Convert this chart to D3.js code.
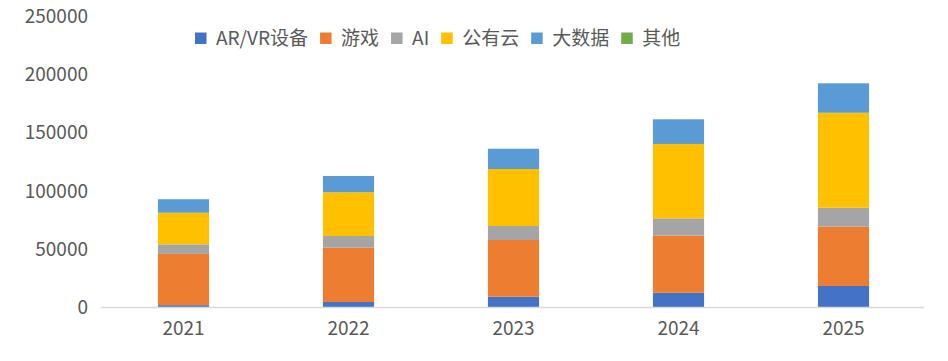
<!DOCTYPE html>
<html><head><meta charset="utf-8">
<script src="https://cdn.jsdelivr.net/npm/d3@7"></script>
<style>body{margin:0;background:#fff;} svg{display:block;}</style>
</head><body>
<svg id="c" width="948" height="361"></svg>
<script>
const years = ["2021","2022","2023","2024","2025"];
const seriesNames = ["AR/VR设备","游戏","AI","公有云","大数据","其他"];
const colors = ["#4472C4","#ED7D31","#A5A5A5","#FFC000","#5B9BD5","#70AD47"];
const arvr    = [2000, 4700, 9300, 12700, 18500];
const game    = [44000, 46700, 48700, 49000, 50900];
const ai      = [8300, 10000, 12000, 14900, 16300];
const cloud   = [27100, 37600, 49000, 63900, 81600];
const bigdata = [11600, 14000, 17400, 21200, 25300];
const other   = [0, 0, 0, 0, 0];
const yTicks  = [0, 50000, 100000, 150000, 200000, 250000];

const seriesVals = [arvr, game, ai, cloud, bigdata, other];
const rows = years.map((y,i)=>{const r={year:y}; seriesNames.forEach((s,j)=>r[s]=seriesVals[j][i]); return r;});
const stack = d3.stack().keys(seriesNames)(rows);

const svg = d3.select("#c");
const font = "'Noto Sans CJK SC','Noto Sans',sans-serif";
const x = d3.scaleBand().domain(years).range([101,926]).paddingInner(0.69).paddingOuter(0.345);
const y = d3.scaleLinear().domain([0,250000]).range([307.5,16.5]);

// bars
svg.append("g").selectAll("g").data(stack).join("g")
  .attr("fill",(d,i)=>colors[i])
  .selectAll("rect").data(d=>d).join("rect")
  .attr("x",d=>x(d.data.year)).attr("width",x.bandwidth())
  .attr("y",d=>y(d[1])).attr("height",d=>y(d[0])-y(d[1]));

// y axis
const ya = svg.append("g").attr("transform","translate(88,0)")
  .call(d3.axisLeft(y).tickValues(yTicks).tickSize(0).tickPadding(0).tickFormat(d3.format("d")));
ya.select(".domain").remove();
ya.selectAll("text").attr("font-family",font).attr("font-size",19).attr("fill","#595959");

// x axis
const xa = svg.append("g").attr("transform","translate(0,307.5)")
  .call(d3.axisBottom(x).tickSize(0).tickPadding(14));
xa.select(".domain").attr("stroke","#d9d9d9").attr("stroke-width",1.5).attr("d","M101,0H924");
xa.selectAll("text").attr("font-family",font).attr("font-size",19).attr("fill","#595959");

// legend
const lg = svg.append("g");
let lx = 195;
seriesNames.forEach((s,i)=>{
  lg.append("rect").attr("x",lx).attr("y",32.5).attr("width",11.5).attr("height",11.5).attr("fill",colors[i]);
  const t = lg.append("text").attr("x",lx+21).attr("y",45).text(s)
    .attr("font-family",font).attr("font-size",19).attr("fill","#595959");
  lx += 21 + t.node().getComputedTextLength() + 12;
});
</script>
</body></html>
